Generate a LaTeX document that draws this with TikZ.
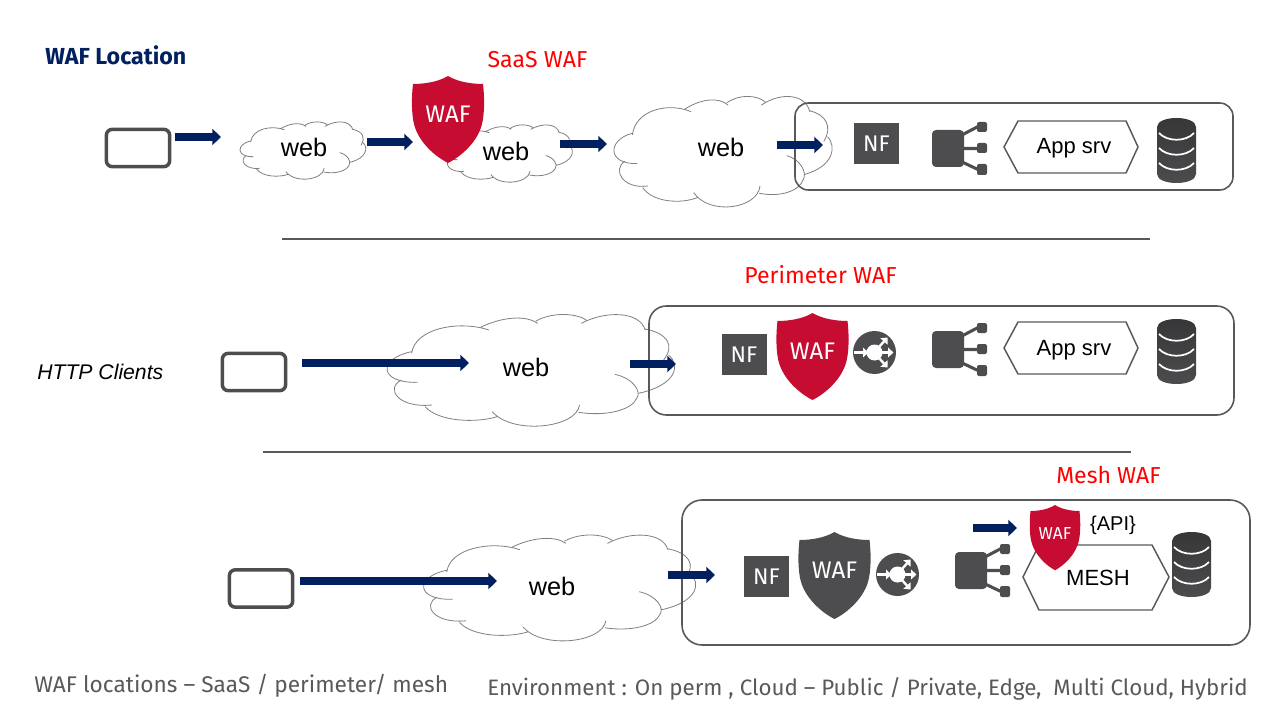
\documentclass[tikz,border=0pt]{standalone}
\usepackage{fontspec}
\setmainfont{Fira Sans}
\newfontfamily\webfont{Liberation Sans}
\usetikzlibrary{arrows.meta}
\definecolor{navyarrow}{HTML}{002060}
\definecolor{wafred}{HTML}{C60C30}
\definecolor{icongray}{HTML}{4D4D4F}
\definecolor{framegray}{HTML}{595959}
\tikzset{
    flow/.style={navyarrow, line width=5.4pt, -{Triangle[length=6.5pt,width=12pt]}},
    clientbox/.style={draw=icongray, line width=2.6pt, rounded corners=4.5pt, minimum width=47.5pt, minimum height=28pt, inner sep=0pt},
    framebox/.style={framegray, line width=1.2pt},
    divider/.style={framegray, line width=1pt},
    nfbox/.style={fill=icongray, text=white, minimum width=33.75pt, minimum height=30.75pt, inner sep=0pt, font=\fontsize{17pt}{19pt}\selectfont},
    hexline/.style={framegray, line width=1.1pt},
    weblabel/.style={font=\webfont\fontsize{19pt}{22pt}\selectfont},
    applabel/.style={font=\webfont\fontsize{16.5pt}{20pt}\selectfont},
    waflabel/.style={text=white, font=\fontsize{18pt}{20pt}\selectfont},
    rowtitle/.style={text=red, font=\fontsize{17.3pt}{20pt}\selectfont},
    footnote/.style={text=framegray, font=\fontsize{17pt}{20pt}\selectfont},
    webcloud/.pic={
        \fill[white] (100,140) .. controls (110,70) and (240,45) .. (310,65)
            .. controls (370,35) and (440,30) .. (470,48)
            .. controls (520,20) and (590,25) .. (610,50)
            .. controls (680,15) and (780,20) .. (795,72)
            .. controls (860,85) and (885,120) .. (865,150)
            .. controls (900,180) and (890,240) .. (775,265)
            .. controls (770,310) and (680,335) .. (600,320)
            .. controls (590,370) and (400,390) .. (345,325)
            .. controls (290,355) and (180,350) .. (140,305)
            .. controls (60,310) and (20,250) .. (70,225)
            .. controls (0,200) and (0,160) .. (100,140) -- cycle;
        \draw[gray, line width=0.6pt] (100,145) .. controls (110,70) and (240,45) .. (330,75)
            (305,67) .. controls (370,35) and (440,30) .. (475,55)
            (470,48) .. controls (520,20) and (590,25) .. (620,45)
            (605,55) .. controls (680,15) and (780,20) .. (795,75)
            (795,72) .. controls (860,85) and (885,120) .. (850,165)
            (865,150) .. controls (900,180) and (890,240) .. (775,265)
            (705,208) .. controls (760,220) and (785,260) .. (770,280)
            .. controls (755,315) and (680,335) .. (597,322)
            (600,300) .. controls (590,370) and (400,390) .. (340,320)
            (355,335) .. controls (290,355) and (180,350) .. (140,305)
            (160,300) .. controls (60,310) and (20,250) .. (70,225)
            (118,232) .. controls (0,235) and (0,160) .. (100,140);
    },
    shieldicon/.pic={
        \fill[pic actions] (0,0) .. controls (10,6) and (24,8) .. (35,8)
            .. controls (37,25) and (36,40) .. (34,48)
            .. controls (30,65) and (14,80) .. (0,87)
            .. controls (-14,80) and (-30,65) .. (-34,48)
            .. controls (-36,40) and (-37,25) .. (-35,8)
            .. controls (-24,8) and (-10,6) .. (0,0) -- cycle;
    },
    splitter/.pic={
        \fill[icongray, rounded corners=3pt] (0,0) rectangle (32,37);
        \draw[icongray, line width=2.3pt] (28,6) -- (47,-4) (28,18.5) -- (47,18.5) (28,31) -- (47,40);
        \fill[icongray, rounded corners=1.5pt] (45,-8) rectangle (55,2) (45,13) rectangle (55,23) (45,34) rectangle (55,45);
    },
    dbicon/.pic={
        \shade[top color=icongray!70!black, bottom color=icongray] (0,9) .. controls (0,-3) and (39,-3) .. (39,9) -- (39,56)
            .. controls (39,68) and (0,68) .. (0,56) -- cycle;
        \draw[white, line width=1.3pt] (2,15) .. controls (10,24) and (29,24) .. (37,15)
            (2,30) .. controls (10,39) and (29,39) .. (37,30)
            (2,45) .. controls (10,54) and (29,54) .. (37,45);
    },
    routericon/.pic={
        \fill[icongray] (0,0) circle (21.5);
        \fill[white] (0,0) circle (8);
        \draw[white, line width=1.8pt, -{Triangle[length=4pt,width=7pt]}] (-21,0) -- (-6,0);
        \draw[white, line width=1.8pt, -{Triangle[length=4pt,width=7pt]}] (4,-5) -- (13,-15);
        \draw[white, line width=1.8pt, -{Triangle[length=4pt,width=7pt]}] (6,0) -- (19,0);
        \draw[white, line width=1.8pt, -{Triangle[length=4pt,width=7pt]}] (4,5) -- (13,15);
    }
}
\begin{document}
\begin{tikzpicture}[x=0.75pt,y=-0.75pt]
    \useasboundingbox (0,0) rectangle (1280,720);

    % Clouds first, the frames run over them
    \pic[xscale=0.147,yscale=0.171] at (236,117) {webcloud};
    \pic[xscale=0.15,yscale=0.171] at (440,120) {webcloud};
    \pic[xscale=0.255,yscale=0.33] at (607,87) {webcloud};
    \pic[xscale=0.336,yscale=1/3] at (378,305) {webcloud};
    \pic[xscale=0.318,yscale=0.316] at (415,526) {webcloud};

    % Frames
    \draw[framebox, rounded corners=10pt] (795,103) rectangle (1233,190);
    \draw[framebox, rounded corners=13pt] (649,306) rectangle (1234,415);
    \draw[framebox, rounded corners=15pt] (682,500) rectangle (1250,645);
    \draw[divider] (282,239) -- (1150,239);
    \draw[divider] (263,452) -- (1131,452);

    % Clients
    \node[clientbox] (clientA) at (138,148) {};
    \node[clientbox] (clientB) at (254,372) {};
    \node[clientbox] (clientC) at (261,588.5) {};

    % Flow arrows
    \foreach \a/\b/\c/\d in {175/137/221/137, 367/142/413/142, 560/144/607/144, 777/145/823/145,
        302/363/469/363, 630/364/676/364, 300/581/497/581, 668/575/715/575, 973/528/1017/528} {
        \coordinate (from) at (\a,\b);
        \coordinate (to) at (\c,\d);
        \draw[flow] (from) -- (to);
    }

    % Web labels
    \node[weblabel] (webA) at (304,147) {web};
    \node[weblabel] (webB) at (506,151) {web};
    \node[weblabel] (webC) at (721,147) {web};
    \node[weblabel] (webD) at (526,367) {web};
    \node[weblabel] (webE) at (552,586) {web};

    % Row contents
    \node[nfbox] (nfA) at (876.5,143.5) {NF\hspace{4pt}};
    \node[nfbox] (nfB) at (744,354.5) {NF\hspace{4pt}};
    \node[nfbox] (nfC) at (766.5,576.5) {NF\hspace{4pt}};

    \pic at (932,130) {splitter};
    \pic at (932,331) {splitter};
    \pic at (955,552) {splitter};

    \draw[hexline] (1004,147) -- (1018,121) -- (1126,121) -- (1138,147) -- (1126,173) -- (1018,173) -- cycle;
    \node[applabel] (appA) at (1074,148) {App srv};
    \draw[hexline] (1004,348) -- (1018,322) -- (1126,322) -- (1138,348) -- (1126,374) -- (1018,374) -- cycle;
    \node[applabel] (appB) at (1074,350) {App srv};
    \draw[hexline] (1023,577) -- (1039,545) -- (1152,545) -- (1169,577) -- (1152,610) -- (1039,610) -- cycle;
    \node[weblabel, font=\webfont\fontsize{16.5pt}{20pt}\selectfont] (mesh) at (1098,578) {MESH};
    \node[applabel, font=\webfont\fontsize{15pt}{18pt}\selectfont] (api) at (1113,525) {\{API\}};

    \pic at (1157,118) {dbicon};
    \pic at (1157,319) {dbicon};
    \pic at (1172,532) {dbicon};

    \pic at (874.5,352.5) {routericon};
    \pic at (897.5,574.5) {routericon};

    % Shields
    \pic[wafred] at (448,76) {shieldicon};
    \node[waflabel] (wafA) at (448,114) {WAF};
    \pic[wafred] at (812.5,313) {shieldicon};
    \node[waflabel] (wafB) at (812.5,351) {WAF};
    \pic[icongray] at (834.5,532) {shieldicon};
    \node[waflabel] (wafC) at (834.5,570) {WAF};
    \pic[wafred, xscale=0.7, yscale=0.75] at (1055,505) {shieldicon};
    \node[waflabel, font=\fontsize{13pt}{15pt}\selectfont] (wafD) at (1055,534) {WAF};

    % Texts
    \node[anchor=west, inner sep=0pt, text=navyarrow, font=\fontsize{17.4pt}{20pt}\selectfont\bfseries] (title) at (45,55) {WAF Location};
    \node[rowtitle] (saas) at (537.5,60) {SaaS WAF};
    \node[rowtitle] (perimeter) at (820.5,275) {Perimeter WAF};
    \node[rowtitle] (meshwaf) at (1108.5,475) {Mesh WAF};
    \node[anchor=west, inner sep=0pt, font=\webfont\itshape\fontsize{15.9pt}{18pt}\selectfont] (clients) at (37,372) {HTTP Clients};
    \node[footnote, anchor=west, inner sep=0pt] (noteA) at (34,686) {WAF locations – SaaS / perimeter/ mesh};
    \node[footnote, anchor=west, inner sep=0pt, font=\fontsize{16.75pt}{20pt}\selectfont] (noteB) at (487,689) {Environment : On perm , Cloud – Public / Private, Edge,\ \ Multi Cloud, Hybrid};
\end{tikzpicture}
\end{document}
